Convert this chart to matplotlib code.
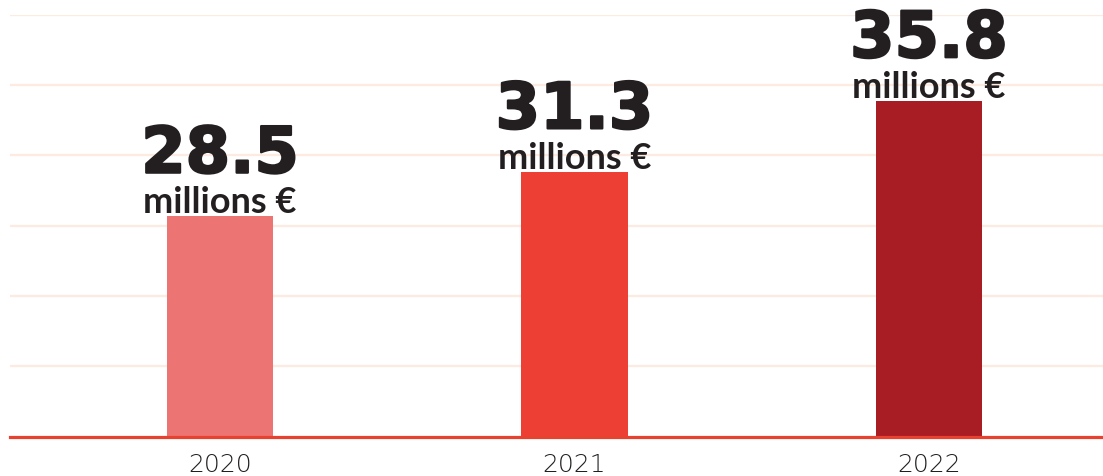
import matplotlib
matplotlib.use("Agg")
import matplotlib.pyplot as plt
import matplotlib.patheffects as pe
import numpy as np

# revenue per year, millions of euros
years = ["2020", "2021", "2022"]
revenue = [28.5, 31.3, 35.8]
unit_label = "millions €"
bar_colors = ["#EC7472", "#EE3F35", "#A81C24"]

TEXT = "#231F20"
GRID = "#FDEAE0"
BASE = "#E8412F"

fig = plt.figure(figsize=(11.03, 4.76), dpi=100)
ax = fig.add_axes([10 / 1103, 39.5 / 476, 1093 / 1103, 421.5 / 476])

x = np.arange(len(years))
ax.bar(x, revenue, width=0.3, color=bar_colors, zorder=2)

# the original chart does not start at zero
y_lo, y_hi = 14.58, 41.24
ax.set_ylim(y_lo, y_hi)
ax.set_xlim(-0.5924, 2.491)

ax.set_yticks(np.linspace(y_lo, y_hi, 7)[1:])
ax.yaxis.grid(True, color=GRID, linewidth=1.6, zorder=0)
ax.tick_params(axis="y", left=False, labelleft=False)
ax.set_axisbelow(True)

ax.set_xticks(x)
ax.set_xticklabels(years, fontsize=18, color=TEXT, family="DejaVu Sans",
                   fontweight="light")
ax.tick_params(axis="x", length=0, pad=12)

for side in ["top", "right", "left"]:
    ax.spines[side].set_visible(False)
ax.spines["bottom"].set_color(BASE)
ax.spines["bottom"].set_linewidth(2.3)
ax.spines["bottom"].set_zorder(3)

thick = [pe.withStroke(linewidth=1.6, foreground=TEXT)]
for xi, val in zip(x, revenue):
    ax.annotate(unit_label, (xi, val), xytext=(0, 2.5), textcoords="offset points",
                ha="center", va="baseline", fontsize=26, fontweight="bold",
                family="Lato", color=TEXT)
    ax.annotate(f"{val:.1f}", (xi, val), xytext=(0, 31.5), textcoords="offset points",
                ha="center", va="baseline", fontsize=46, fontweight="bold",
                family="DejaVu Sans", color=TEXT, path_effects=thick)

fig.savefig("out.png", dpi=100)
